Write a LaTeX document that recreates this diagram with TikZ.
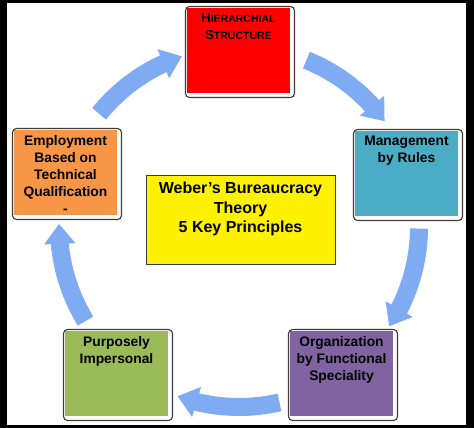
\documentclass[tikz,border=0pt]{standalone}
\usepackage{fontspec}
\setmainfont{Liberation Sans}
\usetikzlibrary{arrows.meta,bending,calc}

\definecolor{arrowblue}{RGB}{126,171,242}
\definecolor{boxred}{RGB}{255,0,0}
\definecolor{boxteal}{RGB}{75,172,198}
\definecolor{boxpurple}{RGB}{128,100,162}
\definecolor{boxgreen}{RGB}{155,187,89}
\definecolor{boxorange}{RGB}{247,150,70}
\definecolor{framegray}{RGB}{60,60,60}

\newcommand{\fakesc}[2]{{\fontsize{13}{17}\selectfont #1}{\fontsize{10.5}{17}\selectfont #2}}

\tikzset{every picture/.style={line width=0.75pt}}
\tikzset{
  principle/.style={anchor=north west, minimum width=103pt, minimum height=85pt, inner sep=0pt, outer sep=0pt},
  principle text/.style={anchor=north, inner sep=5pt, align=center, font=\bfseries\fontsize{13.8}{17}\selectfont},
  boxframe/.style={draw=framegray, line width=1.1pt, rounded corners=4pt},
  cyclearrow/.style={draw=arrowblue, line width=18pt, -{Triangle[width=30pt,length=20pt]}}
}

\begin{document}
\begin{tikzpicture}[x=1pt,y=1pt,yscale=-1,xscale=1]
	%Background frame
	\fill [black] (0,0) rectangle (474,428);
	\fill [white] (7,3) rectangle (466,425);

	%Curved Arrows
	\coordinate (hub) at (239,227);
	\foreach \a/\b in {-141/-108.5, -68/-36, 0.5/33.5, 77/110, 148.5/181}
		\draw [cyclearrow] ($(hub)+(\a:180)$) arc [start angle=\a, end angle=\b, radius=180];

	%Principle Boxes
	\node (hier) [principle, fill=boxred, label={[principle text, anchor=north]north:\fakesc{H}{IERARCHIAL}\\\fakesc{S}{TRUCTURE}}] at (187,8) {};
	\node (rules) [principle, fill=boxteal, label={[principle text, anchor=north]north:Management\\by Rules}] at (355,131) {};
	\node (func) [principle, fill=boxpurple, label={[principle text, anchor=north]north:Organization\\by Functional\\Speciality}] at (290,331) {};
	\node (imper) [principle, fill=boxgreen, label={[principle text, anchor=north]north:Purposely\\Impersonal}] at (65,331) {};
	\node (employ) [principle, fill=boxorange, label={[principle text, anchor=north]north:Employment\\Based on\\Technical\\Qualification\\-}] at (14,130) {};
	\foreach \n in {hier,rules,func,imper,employ}
		\draw [boxframe] ($(\n.north west)+(-1.5,-1.5)$) rectangle ($(\n.south east)+(4.5,4.5)$);

	% Text Node
	\node (theory) [principle, minimum width=189pt, minimum height=89pt, fill=yellow, draw=framegray, line width=0.6pt, label={[principle text, anchor=north, inner sep=7pt, font=\bfseries\fontsize{16}{19.5}\selectfont]north:Weber’s Bureaucracy\\Theory\\5 Key Principles}] at (146,175) {};
\end{tikzpicture}
\end{document}
